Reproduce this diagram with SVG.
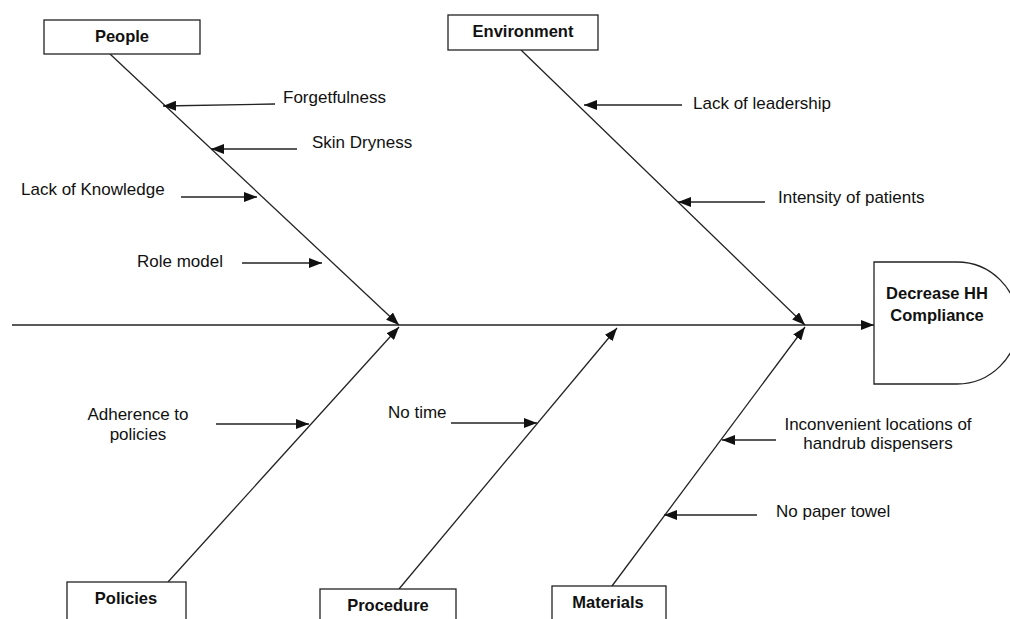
<svg xmlns="http://www.w3.org/2000/svg" width="1010" height="619" viewBox="0 0 1010 619">
<defs>
<marker id="ah" viewBox="0 0 13 10" refX="13" refY="5" markerWidth="13" markerHeight="10" markerUnits="userSpaceOnUse" orient="auto">
<path d="M0,0 L13,5 L0,10 Z" fill="#111"/>
</marker>
<style>
.box{fill:#fff;stroke:#222;stroke-width:1.3}
.ln{stroke:#222;stroke-width:1.3;fill:none}
.arr{stroke:#222;stroke-width:1.3;fill:none;marker-end:url(#ah)}
.lbl{font-family:"Liberation Sans",Arial,sans-serif;font-size:17px;fill:#111}
.hd{font-family:"Liberation Sans",Arial,sans-serif;font-size:16.5px;font-weight:bold;fill:#111;text-anchor:middle}
</style>
</defs>
<rect width="1010" height="619" fill="#fff"/>

<g id="connectors">
<line class="arr" x1="12" y1="325" x2="874" y2="325"/>
<line class="arr" x1="110" y1="54" x2="399" y2="325"/>
<line class="arr" x1="521" y1="50" x2="805" y2="325"/>
<line class="arr" x1="168" y1="582" x2="399" y2="327"/>
<line class="arr" x1="399" y1="589" x2="617" y2="328"/>
<line class="arr" x1="612" y1="586" x2="805" y2="327"/>
<line class="arr" x1="275" y1="104" x2="163" y2="106"/>
<line class="arr" x1="297" y1="149" x2="211" y2="149"/>
<line class="arr" x1="181" y1="197" x2="257" y2="197"/>
<line class="arr" x1="242" y1="263" x2="322" y2="263"/>
<line class="arr" x1="682" y1="105" x2="584" y2="105"/>
<line class="arr" x1="765" y1="202" x2="678" y2="202"/>
<line class="arr" x1="216" y1="424" x2="309" y2="424"/>
<line class="arr" x1="451" y1="423" x2="537" y2="423"/>
<line class="arr" x1="776" y1="440" x2="722" y2="440"/>
<line class="arr" x1="757" y1="515" x2="664" y2="515"/>
</g>

<g id="people">
<rect class="box" x="44" y="20" width="156" height="34"/>
<text class="hd" x="122" y="42">People</text>
</g>
<g id="environment">
<rect class="box" x="448" y="15" width="150" height="35"/>
<text class="hd" x="523" y="37">Environment</text>
</g>
<g id="policies">
<rect class="box" x="67" y="582" width="119" height="45"/>
<text class="hd" x="126" y="604">Policies</text>
</g>
<g id="procedure">
<rect class="box" x="320" y="589" width="136" height="40"/>
<text class="hd" x="388" y="611">Procedure</text>
</g>
<g id="materials">
<rect class="box" x="552" y="586" width="114" height="40"/>
<text class="hd" x="608" y="608">Materials</text>
</g>
<g id="effect">
<path class="box" d="M874,262 H957 A61,61 0 0 1 957,384 H874 Z"/>
<text class="hd" x="937" y="299">Decrease HH</text>
<text class="hd" x="937" y="321">Compliance</text>
</g>

<g id="causes">
<text class="lbl" x="283" y="103">Forgetfulness</text>
<text class="lbl" x="312" y="148">Skin Dryness</text>
<text class="lbl" x="21" y="195">Lack of Knowledge</text>
<text class="lbl" x="137" y="267">Role model</text>
<text class="lbl" x="693" y="109">Lack of leadership</text>
<text class="lbl" x="778" y="203">Intensity of patients</text>
<text class="lbl" x="138" y="420" text-anchor="middle">Adherence to</text>
<text class="lbl" x="138" y="440" text-anchor="middle">policies</text>
<text class="lbl" x="388" y="418">No time</text>
<text class="lbl" x="878" y="430" text-anchor="middle">Inconvenient locations of</text>
<text class="lbl" x="878" y="449" text-anchor="middle">handrub dispensers</text>
<text class="lbl" x="776" y="517">No paper towel</text>
</g>
</svg>
